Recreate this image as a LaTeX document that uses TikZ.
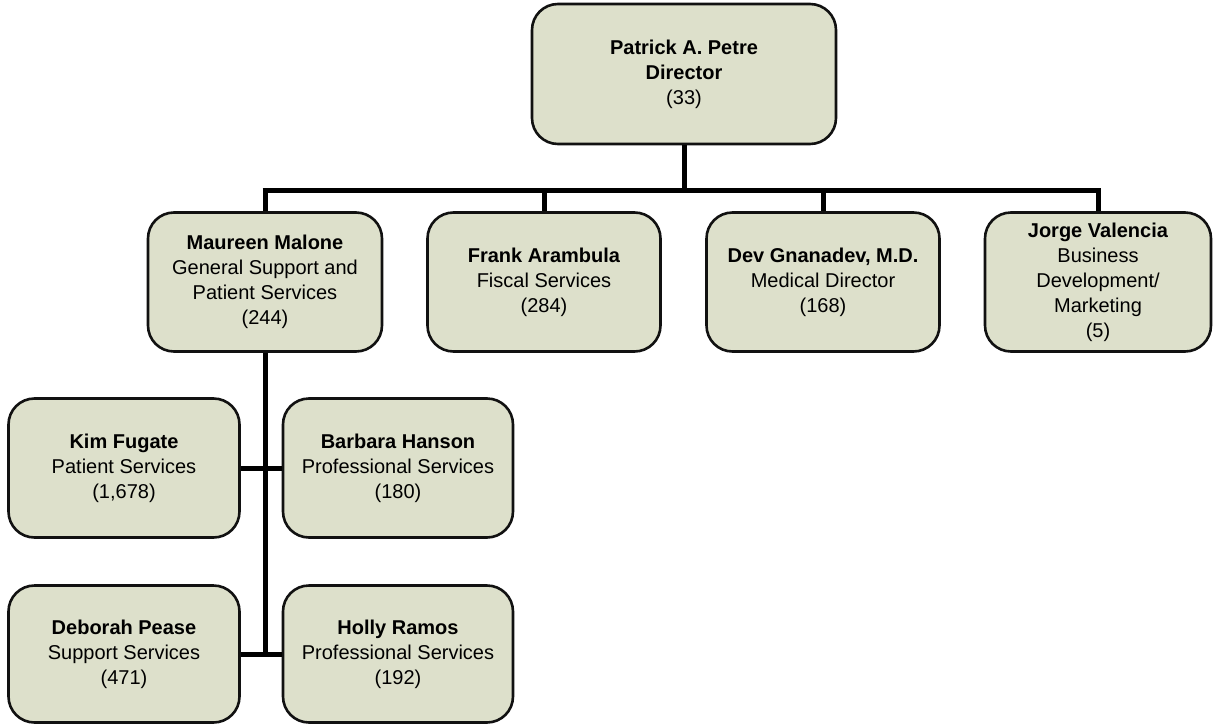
\documentclass[tikz,border=0pt]{standalone}
\usepackage{fontspec}
\setmainfont{Liberation Sans}
\usetikzlibrary{calc,positioning}
\definecolor{orgFill}{HTML}{DDE0CB}
\definecolor{orgInk}{HTML}{111111}

\begin{document}
\begin{tikzpicture}[x=1pt,y=-1pt,line cap=round,line join=round]
\path[fill=white,use as bounding box] (0,0) rectangle (1213,723);
\tikzset{unit/.style={draw=orgInk,fill=orgFill,line width=2.6pt,rounded corners=26pt,align=center,text=black,font=\fontsize{20}{25}\selectfont,minimum width=233pt,minimum height=139pt,inner sep=2pt},conn/.style={draw=black,line width=5pt,line cap=butt}}
\node[unit,minimum width=304pt,minimum height=140pt] (dir) at (684,74) {\textbf{Patrick A. Petre}\\\textbf{Director}\\(33)};
\node[unit,minimum width=234pt] (mm) at (265,282) {\textbf{Maureen Malone}\\General Support and\\Patient Services\\(244)};
\node[unit] (fa) at (544,282) {\textbf{Frank Arambula}\\Fiscal Services\\(284)};
\node[unit] (dg) at (823,282) {\textbf{Dev Gnanadev, M.D.}\\Medical Director\\(168)};
\node[unit,minimum width=226pt] (jv) at (1098,282) {\textbf{Jorge Valencia}\\Business\\Development/\\Marketing\\(5)};
\node[unit,minimum width=231pt] (kf) at (124,468) {\textbf{Kim Fugate}\\Patient Services\\(1,678)};
\node[unit,minimum width=230pt] (bh) at (398,468) {\textbf{Barbara Hanson}\\Professional Services\\(180)};
\node[unit,minimum width=231pt,minimum height=137pt] (dp) at (124,654) {\textbf{Deborah Pease}\\Support Services\\(471)};
\node[unit,minimum width=230pt,minimum height=137pt] (hr) at (398,654) {\textbf{Holly Ramos}\\Professional Services\\(192)};
\coordinate (bus) at (684,190);
\draw[conn] (dir.south) -- (dir.south |- bus);
\draw[conn] ([xshift=-2.5pt]mm.north |- bus) -- ([xshift=2.5pt]jv.north |- bus);
\foreach \n in {mm,fa,dg,jv} \draw[conn] (\n.north |- bus) -- (\n.north);
\draw[conn] (mm.south) -- (mm.south |- dp.east);
\draw[conn] (kf.east) -- (bh.west);
\draw[conn] (dp.east) -- (hr.west);
\end{tikzpicture}
\end{document}
